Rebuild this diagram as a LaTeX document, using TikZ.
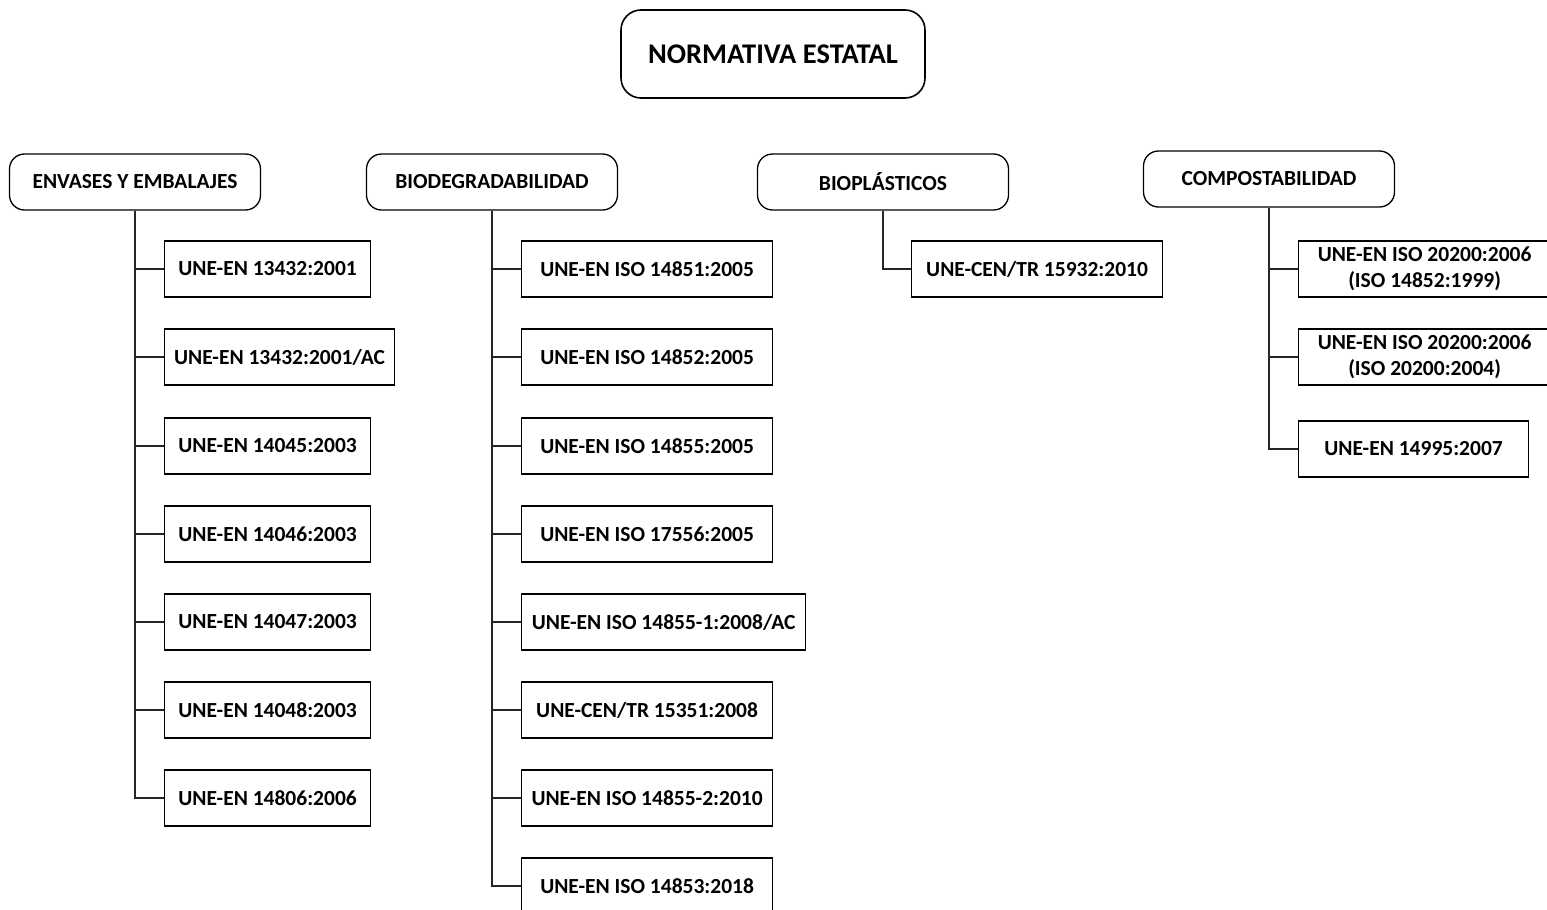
\documentclass[tikz,border=0pt]{standalone}
\usepackage{fontspec}
\setmainfont{Carlito}
\tikzset{
  raiz/.style={draw, rounded corners=20pt, line width=1.6pt, minimum width=304pt,
    minimum height=88pt, font=\fontsize{28.5}{32}\selectfont\bfseries},
  grupo/.style={draw, rounded corners=15pt, line width=1.3pt, minimum width=251pt,
    minimum height=56pt, font=\fontsize{21.5}{25}\selectfont\bfseries},
  norma/.style={draw, line width=1.2pt, anchor=west, minimum height=56pt,
    align=center, inner ysep=2pt, font=\fontsize{21.5}{26}\selectfont\bfseries},
  rama/.style={line width=1.2pt, color=black!85}
}
\begin{document}
\begin{tikzpicture}[x=1pt, y=-1pt]
  \useasboundingbox[fill=white] (0, 0) rectangle (1547, 910);

  \node[raiz] (raiz) at (773, 54) {NORMATIVA ESTATAL};

  \node[grupo] (env) at (135, 182) {ENVASES Y EMBALAJES};
  \node[grupo] (bio) at (492, 182) {BIODEGRADABILIDAD};
  \node[grupo] (bpl) at (883, 182) {BIOPLÁSTICOS};
  \node[grupo] (com) at (1269, 179) {COMPOSTABILIDAD};

  % envases y embalajes
  \node[norma, minimum width=206pt] (env1) at (164, 269) {UNE-EN 13432:2001};
  \node[norma, minimum width=230pt] (env2) at (164, 357) {UNE-EN 13432:2001/AC};
  \node[norma, minimum width=206pt] (env3) at (164, 446) {UNE-EN 14045:2003};
  \node[norma, minimum width=206pt] (env4) at (164, 534) {UNE-EN 14046:2003};
  \node[norma, minimum width=206pt] (env5) at (164, 622) {UNE-EN 14047:2003};
  \node[norma, minimum width=206pt] (env6) at (164, 710) {UNE-EN 14048:2003};
  \node[norma, minimum width=206pt] (env7) at (164, 798) {UNE-EN 14806:2006};

  % biodegradabilidad
  \node[norma, minimum width=251pt] (bio1) at (521, 269) {UNE-EN ISO 14851:2005};
  \node[norma, minimum width=251pt] (bio2) at (521, 357) {UNE-EN ISO 14852:2005};
  \node[norma, minimum width=251pt] (bio3) at (521, 446) {UNE-EN ISO 14855:2005};
  \node[norma, minimum width=251pt] (bio4) at (521, 534) {UNE-EN ISO 17556:2005};
  \node[norma, minimum width=284pt] (bio5) at (521, 622) {UNE-EN ISO 14855-1:2008/AC};
  \node[norma, minimum width=251pt] (bio6) at (521, 710) {UNE-CEN/TR 15351:2008};
  \node[norma, minimum width=251pt] (bio7) at (521, 798) {UNE-EN ISO 14855-2:2010};
  \node[norma, minimum width=251pt] (bio8) at (521, 886) {UNE-EN ISO 14853:2018};

  % bioplasticos
  \node[norma, minimum width=251pt] (bpl1) at (911, 269) {UNE-CEN/TR 15932:2010};

  % compostabilidad
  \node[norma, minimum width=252pt] (com1) at (1298, 269) {UNE-EN ISO 20200:2006\\(ISO 14852:1999)};
  \node[norma, minimum width=252pt] (com2) at (1298, 357) {UNE-EN ISO 20200:2006\\(ISO 20200:2004)};
  \node[norma, minimum width=230pt] (com3) at (1298, 449) {UNE-EN 14995:2007};

  % ramas
  \foreach \n in {env1,env2,env3,env4,env5,env6,env7}
    \draw[rama] (env.south) |- (\n.west);
  \foreach \n in {bio1,bio2,bio3,bio4,bio5,bio6,bio7,bio8}
    \draw[rama] (bio.south) |- (\n.west);
  \draw[rama] (bpl.south) |- (bpl1.west);
  \foreach \n in {com1,com2,com3}
    \draw[rama] (com.south) |- (\n.west);
\end{tikzpicture}
\end{document}
